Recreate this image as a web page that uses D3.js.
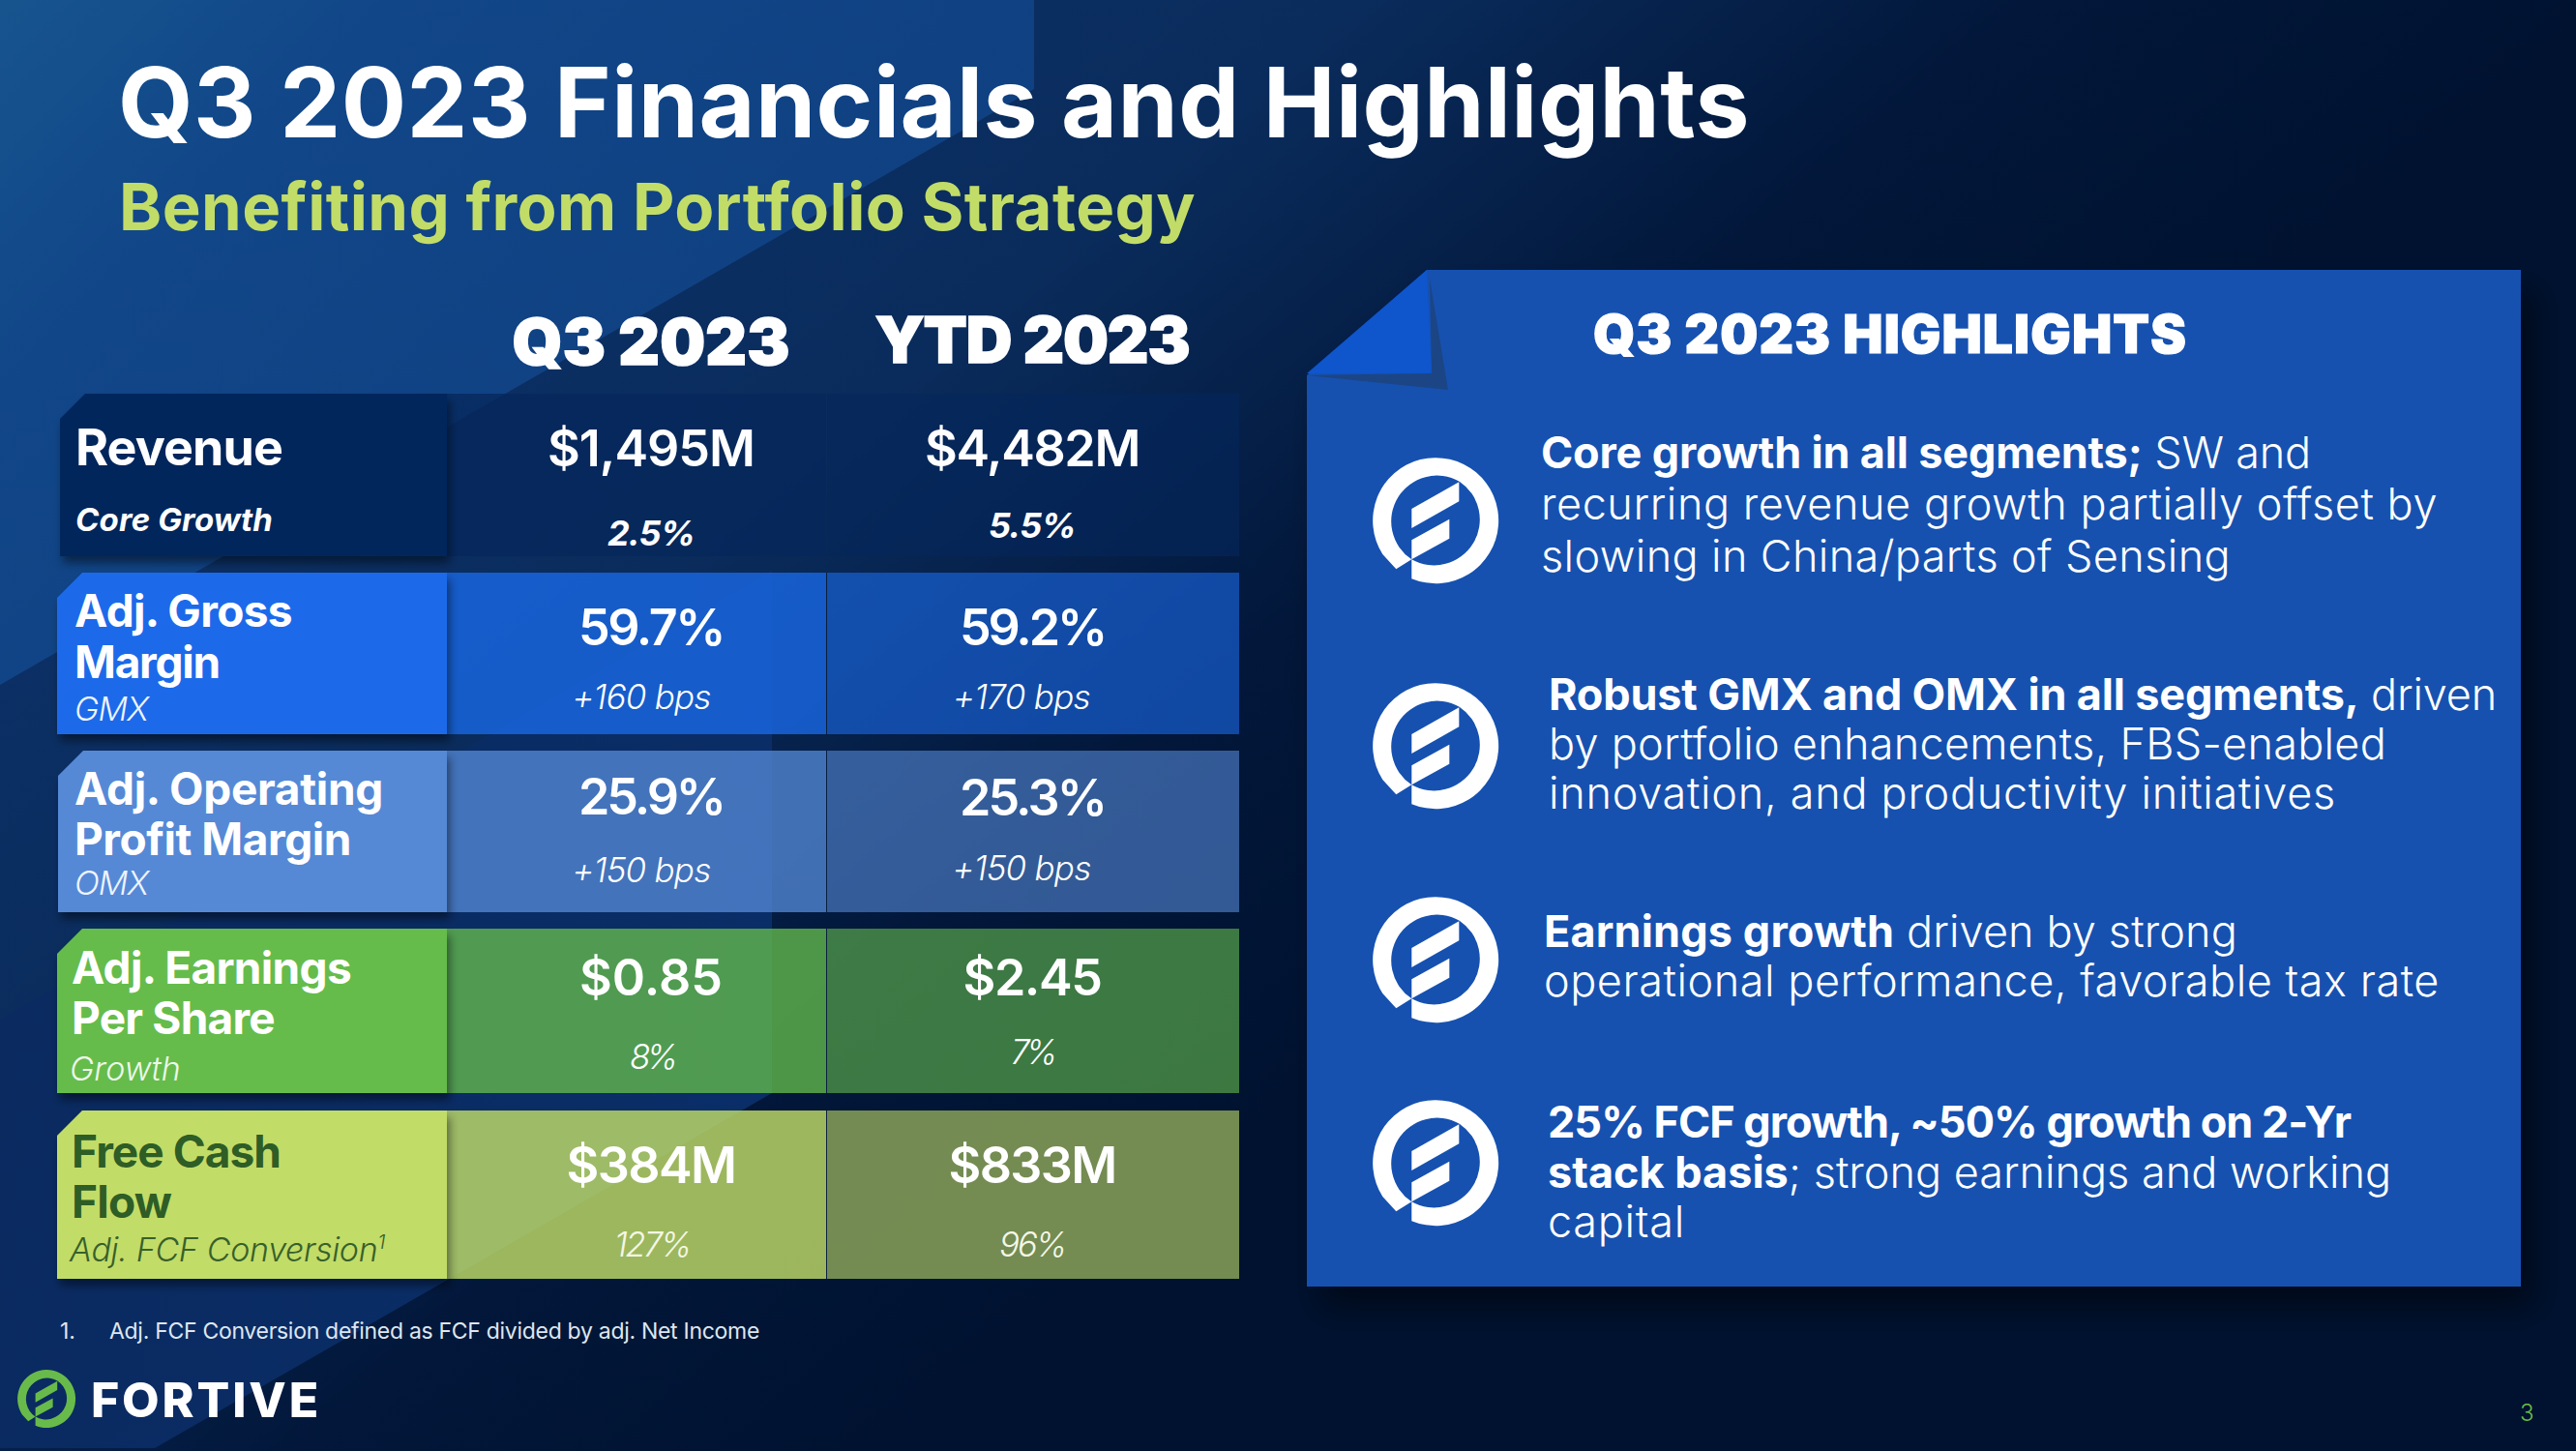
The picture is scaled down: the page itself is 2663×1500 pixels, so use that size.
<!DOCTYPE html>
<html><head><meta charset="utf-8">
<script src="https://cdn.jsdelivr.net/npm/d3@7"></script>
<style>html,body{margin:0;padding:0;background:#001230}svg{display:block}text{font-family:Inter,"Noto Sans",sans-serif;white-space:pre}</style>
</head><body><div id="c"></div>
<script>
// ---------- data ----------
const pageTitle = "Q3 2023 Financials and Highlights";
const pageSubtitle = "Benefiting from Portfolio Strategy";
const periods = ["Q3 2023", "YTD 2023"];
const metrics = ["Revenue", "Adj. Gross Margin", "Adj. Operating Profit Margin", "Adj. Earnings Per Share", "Free Cash Flow"];
const metricLines = [["Revenue"], ["Adj. Gross", "Margin"], ["Adj. Operating", "Profit Margin"], ["Adj. Earnings", "Per Share"], ["Free Cash", "Flow"]];
const subLabels = ["Core Growth", "GMX", "OMX", "Growth", "Adj. FCF Conversion"];
const q3Values = ["$1,495M", "59.7%", "25.9%", "$0.85", "$384M"];
const ytdValues = ["$4,482M", "59.2%", "25.3%", "$2.45", "$833M"];
const q3Subs = ["2.5%", "+160 bps", "+150 bps", "8%", "127%"];
const ytdSubs = ["5.5%", "+170 bps", "+150 bps", "7%", "96%"];
const footnote = "Adj. FCF Conversion defined as FCF divided by adj. Net Income";
const highlightsTitle = "Q3 2023 HIGHLIGHTS";
const highlights = [
  [[["Core growth in all segments;", 1], [" SW and", 0]], [["recurring revenue growth partially offset by", 0]], [["slowing in China/parts of Sensing", 0]]],
  [[["Robust GMX and OMX in all segments,", 1], [" driven", 0]], [["by portfolio enhancements, FBS-enabled", 0]], [["innovation, and productivity initiatives", 0]]],
  [[["Earnings growth", 1], [" driven by strong", 0]], [["operational performance, favorable tax rate", 0]]],
  [[["25% FCF growth, ~50% growth on 2-Yr", 1]], [["stack basis", 1], ["; strong earnings and working", 0]], [["capital", 0]]]
];

// ---------- layout & style (separate from the data) ----------
const W = 2663, H = 1500;
const rowTop = d3.scaleOrdinal(metrics, [407, 592, 776, 960, 1148]);
const rowBottom = d3.scaleOrdinal(metrics, [575, 759, 943, 1130, 1322]);
const labelX0 = [62, 59, 60, 59, 59];
const rowColor = ["#05275b", "#1a6bea", "#5589d6", "#65bc4c", "#c2dc68"];
const labelInk = ["#fff", "#fff", "#fff", "#fff", "#2e5d26"];
const subInk = ["#fff", "#eef4ff", "#eef4ff", "#eef8ea", "#37602b"];
const colLeft = [462, 855], colRight = [854, 1281];
const colCenter = d3.scaleOrdinal(periods, [673, 1067]);
const colAlpha = [[.75, .65], [.77, .6], [.77, .6], [.77, .6], [.81, .6]];

const lineBase = [[481], [648, 701], [832, 884], [1017, 1069], [1207, 1259]];
const lineX = [78, 77, 77, 74, 74];
const lineSize = [52, 46, 46, 46, 46];
const lineWidth = [[214], [225, 150], [319, 286], [289, 210], [216, 103]];
const subBase = [549, 745, 925, 1117, 1304], subX = [78, 77, 77, 72, 72], subW = [204, 76, 76, 115, 318];
const valBase = [[482, 667, 842, 1029, 1223], [482, 667, 843, 1029, 1223]];
const valW = [[214, 150, 150, 148, 175], [222, 150, 150, 143, 173]];
const smallBase = [[564, 733, 912, 1105, 1299], [556, 733, 910, 1100, 1299]];
const smallCenter = [[673, 663, 663, 674, 674], [1067, 1056, 1056, 1067, 1067]];
const smallW = [[90, 143, 143, 46, 78], [90, 142, 143, 44, 68]];

const blockX = [1593, 1601, 1596, 1600];
const blockBase = [[484, 537, 591], [734, 785, 836], [979, 1030], [1176, 1228, 1279]];
const blockEnd = [[2389, 2520, 2306], [2581, 2467, 2415], [2313, 2522], [2430, 2472, 1742]];
const iconY = [538, 771, 992, 1202];

const svg = d3.select("#c").append("svg").attr("width", W).attr("height", H).attr("viewBox", `0 0 ${W} ${H}`);
const defs = svg.append("defs");
function grad(id, x1, y1, x2, y2, stops) {
  const g = defs.append("linearGradient").attr("id", id).attr("gradientUnits", "userSpaceOnUse")
    .attr("x1", x1).attr("y1", y1).attr("x2", x2).attr("y2", y2);
  stops.forEach(s => g.append("stop").attr("offset", s[0]).attr("stop-color", s[1]));
}
grad("bg", 0, 0, 1107, 1328, [[0, "#0e3572"], [.52, "#0a2c5c"], [.78, "#02173a"], [1, "#001230"]]);
grad("bgB", 0, 0, 700, 700, [[0, "#17548e"], [.3, "#114688"], [1, "#0f3f80"]]);
grad("bgD", 0, 1050, 800, 1300, [[0, "#0a2a60"], [1, "#0a2e68"]]);
const sh = defs.append("filter").attr("id", "sh").attr("x", "-10%").attr("y", "-10%").attr("width", "125%").attr("height", "130%");
sh.append("feDropShadow").attr("dx", 3).attr("dy", 7).attr("stdDeviation", 5).attr("flood-color", "#000").attr("flood-opacity", .45);
const sh2 = defs.append("filter").attr("id", "sh2").attr("x", "-10%").attr("y", "-10%").attr("width", "125%").attr("height", "125%");
sh2.append("feDropShadow").attr("dx", 14).attr("dy", 22).attr("stdDeviation", 16).attr("flood-color", "#000").attr("flood-opacity", .5);

// background
svg.append("rect").attr("width", W).attr("height", H).attr("fill", "url(#bg)");
svg.append("path").attr("fill", "url(#bgB)").attr("d", "M0,0H1069V92L0,708Z");
svg.append("path").attr("fill", "url(#bgD)").attr("d", "M0,1054L798,590V1130L160,1497H0Z");

// helper: text whose natural width is nudged to a target by letter spacing
function fit(sel, target) {
  const n = sel.text().length, w = sel.node().getComputedTextLength();
  sel.attr("letter-spacing", ((target - w) / Math.max(n, 1)).toFixed(3));
  return sel;
}
function put(parent, str, x, y, size, weight, fill, target, opts = {}) {
  const t = parent.append("text").attr("x", x).attr("y", y).attr("font-size", size).attr("font-weight", weight).attr("fill", fill).text(str);
  if (opts.anchor) t.attr("text-anchor", opts.anchor);
  if (opts.italic) t.attr("font-style", "italic");
  if (opts.stroke) t.attr("stroke", fill).attr("stroke-width", opts.stroke);
  if (target) fit(t, target);
  return t;
}

// logo mark
function logo(parent, cx, cy, r, fill) {
  const g = parent.append("g").attr("transform", `translate(${cx},${cy}) scale(${r / 65})`).attr("fill", fill);
  g.append("path").attr("fill-rule", "evenodd").attr("d",
    "M-24.7,60.2A65,65 0 1 0 -54.7,35L-40.7,50.3L-24.7,40.3A47.3,47.3 0 0 1 24.7,-40.3A47.3,47.3 0 0 1 -24.7,40.3Z");
  g.append("path").attr("d", "M-24.7,-12L24.3,-39.7V-19.7L-24.7,8Z");
  g.append("path").attr("d", "M-24.7,20.3L14.3,-1.3V18.7L-24.7,40.3Z");
}

// titles
put(svg, pageTitle, 122, 142, 100, 700, "#fff", 1687);
put(svg, pageSubtitle, 123, 238, 67, 700, "#c2dc68", 1113);
periods.forEach((p, i) => put(svg, p, colCenter(p), i ? 375 : 377, 66, 900, "#fff", i ? 325 : 287, { anchor: "middle", stroke: 1.5 }));

// table rows
metrics.forEach((m, i) => {
  const top = rowTop(m), bot = rowBottom(m), x0 = labelX0[i], g = svg.append("g");
  periods.forEach((p, c) => {
    g.append("rect").attr("x", colLeft[c]).attr("y", top).attr("width", colRight[c] - colLeft[c]).attr("height", bot - top)
      .attr("fill", rowColor[i]).attr("fill-opacity", colAlpha[i][c]);
  });
  if (i) g.append("rect").attr("x", colRight[0]).attr("y", top).attr("width", 1).attr("height", bot - top).attr("fill", "#0a1f3f");
  g.append("path").attr("filter", "url(#sh)").attr("fill", rowColor[i])
    .attr("d", d3.line()([[x0 + 26, top], [colLeft[0], top], [colLeft[0], bot], [x0, bot], [x0, top + 26]]) + "Z");
  metricLines[i].forEach((l, k) => put(g, l, lineX[i], lineBase[i][k], lineSize[i], 700, labelInk[i], lineWidth[i][k]));
  const sub = put(g, subLabels[i], subX[i], subBase[i], i ? 34 : 33, i ? 300 : 700, subInk[i], null, { italic: true });
  if (i === 4) sub.append("tspan").attr("dy", -13).attr("font-size", 20).text("1");
  fit(sub, subW[i] + (i === 4 ? 8 : 0));
  [q3Values, ytdValues].forEach((vals, c) => {
    put(g, vals[i], colCenter(periods[c]), valBase[c][i], 52, 600, "#fff", valW[c][i], { anchor: "middle" });
  });
  [q3Subs, ytdSubs].forEach((vals, c) => {
    put(g, vals[i], smallCenter[c][i], smallBase[c][i], i ? 35 : 36, i ? 300 : 700, i === 4 ? "#f4f7e6" : "#fff", smallW[c][i], { anchor: "middle", italic: true });
  });
});

// footnote and brand
put(svg, "1.", 62, 1384, 23, 400, "#dfe6ef");
put(svg, footnote, 113, 1384, 23, 400, "#dfe6ef", 672);
logo(svg, 48, 1446, 30, "#68bb4a");
put(svg, "FORTIVE", 94, 1465, 50, 800, "#fff", 238);
put(svg, "3", 2605, 1469, 24, 300, "#6cbb45");

// highlights panel
svg.append("path").attr("filter", "url(#sh2)").attr("fill", "#1351b0")
  .attr("d", d3.line()([[1475, 279], [2606, 279], [2606, 1330], [1351, 1330], [1351, 388]]) + "Z");
svg.append("path").attr("fill", "#1c4585").attr("d", d3.line()([[1478, 288], [1497, 403], [1351, 388], [1480, 386]]) + "Z");
svg.append("path").attr("fill", "#0f55cc").attr("d", d3.line()([[1351, 386], [1475, 279], [1480, 386]]) + "Z");
put(svg, highlightsTitle, 1647, 365, 55, 900, "#fff", 614, { stroke: 1.2 });

highlights.forEach((block, b) => {
  logo(svg, 1484, iconY[b], 65, "#fff");
  block.forEach((line, k) => {
    const t = svg.append("text").attr("x", blockX[b]).attr("y", blockBase[b][k]).attr("font-size", 45).attr("fill", "#fff");
    line.forEach(run => t.append("tspan").attr("font-weight", run[1] ? 700 : 300).text(run[0]));
    fit(t, blockEnd[b][k] - blockX[b]);
  });
});
</script></body></html>
